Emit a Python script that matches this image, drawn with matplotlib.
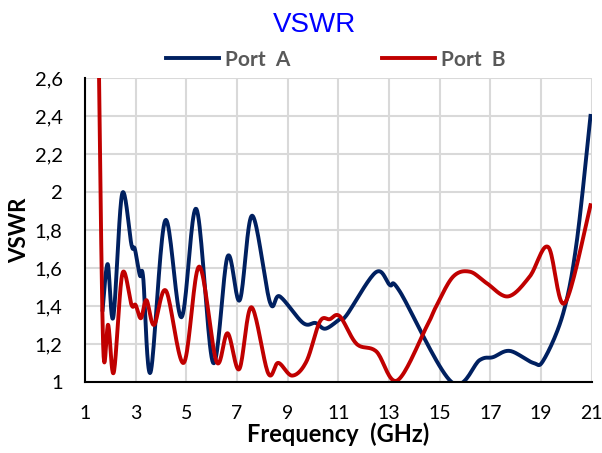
import numpy as np
import matplotlib.pyplot as plt
from matplotlib.ticker import FuncFormatter

# Port A (GHz, VSWR)
freq_a = [1.70, 1.90, 2.12, 2.47, 2.84, 2.97, 3.17, 3.30, 3.59, 4.17, 4.81, 5.40, 6.06,
          6.63, 7.11, 7.60, 8.30, 8.69, 9.61, 10.10, 10.49, 11.06, 11.32, 12.48, 13.03,
          13.43, 15.46, 16.58, 17.10, 17.77, 18.69, 19.10, 19.87, 20.40, 20.95]
vswr_a = [1.38, 1.62, 1.34, 1.99, 1.72, 1.70, 1.56, 1.55, 1.05, 1.85, 1.34, 1.91, 1.10,
          1.66, 1.43, 1.875, 1.42, 1.45, 1.31, 1.31, 1.28, 1.33, 1.35, 1.577, 1.51,
          1.475, 1.00, 1.115, 1.13, 1.163, 1.10, 1.115, 1.36, 1.73, 2.40]

# Port B
freq_b = [1.53, 1.72, 1.92, 2.14, 2.48, 2.84, 3.00, 3.21, 3.43, 3.73, 4.20, 4.90, 5.51,
          6.19, 6.63, 7.09, 7.57, 8.23, 8.63, 9.18, 9.74, 10.27, 10.66, 11.06, 11.72,
          12.50, 13.32, 14.48, 14.87, 15.53, 16.19, 16.85, 17.70, 18.55, 19.28, 19.93, 20.95]
vswr_b = [2.90, 1.195, 1.30, 1.05, 1.57, 1.405, 1.405, 1.335, 1.43, 1.30, 1.48, 1.10, 1.607,
          1.107, 1.256, 1.067, 1.393, 1.046, 1.10, 1.033, 1.107, 1.317, 1.33, 1.345, 1.20,
          1.16, 1.007, 1.29, 1.40, 1.554, 1.58, 1.52, 1.45, 1.554, 1.71, 1.414, 1.93]

x_ticks = list(range(1, 22, 2))
y_ticks = [1, 1.2, 1.4, 1.6, 1.8, 2, 2.2, 2.4, 2.6]


def smooth(x, y, n=20):
    # catmull-rom through the points, like excel smoothed lines
    p = np.column_stack([x, y])
    p = np.vstack([p[0], p, p[-1]])
    out = []
    t = np.linspace(0, 1, n, endpoint=False)[:, None]
    for i in range(1, len(p) - 2):
        p0, p1, p2, p3 = p[i - 1], p[i], p[i + 1], p[i + 2]
        seg = 0.5 * (2 * p1 + (-p0 + p2) * t + (2 * p0 - 5 * p1 + 4 * p2 - p3) * t ** 2
                     + (-p0 + 3 * p1 - 3 * p2 + p3) * t ** 3)
        out.append(seg)
    out.append(p[-2][None, :])
    out = np.vstack(out)
    return out[:, 0], out[:, 1]


plt.rcParams['font.family'] = ['Lato', 'DejaVu Sans']

fig = plt.figure(figsize=(6.02, 4.53), dpi=100)
ax = fig.add_axes([0.141, 0.157, 0.842, 0.671])

xa, ya = smooth(freq_a, vswr_a)
xb, yb = smooth(freq_b, vswr_b)
ax.plot(xa, ya, color='#002060', lw=2.8, label='Port  A', zorder=3)
ax.plot(xb, yb, color='#C00000', lw=2.8, label='Port  B', zorder=3)

ax.set_xlim(1, 21)
ax.set_ylim(1, 2.6)
ax.set_xticks(x_ticks)
ax.set_yticks(y_ticks)
ax.yaxis.set_major_formatter(FuncFormatter(lambda v, p: ('%g' % round(v, 1)).replace('.', ',')))
ax.tick_params(length=0, labelsize=14, colors='black')
ax.tick_params(axis='x', pad=17)
ax.tick_params(axis='y', pad=16, labelsize=14.5)
ax.grid(True, color='#d9d9d9', lw=1.5, zorder=0)
for s in ['top', 'right']:
    ax.spines[s].set_visible(False)
for s in ['left', 'bottom']:
    ax.spines[s].set_color('black')
    ax.spines[s].set_linewidth(1.5)
    ax.spines[s].set_zorder(4)

ax.set_xlabel('Frequency  (GHz)', fontsize=17, fontweight='bold', labelpad=0)
ax.set_ylabel('VSWR', fontsize=16, fontweight='bold', labelpad=3)

fig.text(0.523, 0.945, 'VSWR', color='#0000FF', fontsize=20, ha='center', va='center',
         family='Liberation Sans')
leg = ax.legend(loc='center', bbox_to_anchor=(0.495, 1.06), ncol=2, frameon=False,
                fontsize=15, handlelength=2.55, columnspacing=4.4, handletextpad=0.3)
for t in leg.get_texts():
    t.set_color('#595959')
    t.set_fontweight('bold')

fig.savefig('out.png', dpi=100)
